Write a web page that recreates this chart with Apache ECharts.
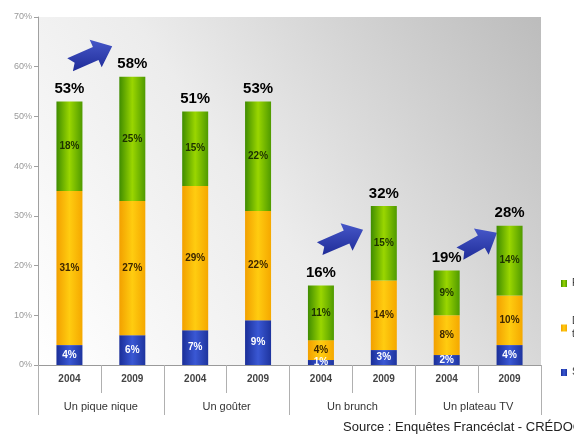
<!DOCTYPE html>
<html>
<head>
<meta charset="utf-8">
<script src="https://cdn.jsdelivr.net/npm/echarts@6/dist/echarts.min.js"></script>
<style>html,body{margin:0;padding:0;background:#fff;}#c{width:574px;height:434px;}</style>
</head>
<body>
<div id="c"></div>
<script>
var years = ['2004','2009','2004','2009','2004','2009','2004','2009'];
var groups = ['Un pique nique','Un goûter','Un brunch','Un plateau TV'];
var blueVals = [4, 6, 7, 9, 1, 3, 2, 4];
var orangeVals = [31, 27, 29, 22, 4, 14, 8, 10];
var greenVals = [18, 25, 15, 22, 11, 15, 9, 14];
var totals = [53, 58, 51, 53, 16, 32, 19, 28];
var seriesNames = ['Rarement', 'De temps en\ntemps', 'Souvent'];
var yTicks = [0, 10, 20, 30, 40, 50, 60, 70];
// arrows: [xStart, yStart, xEnd, yEnd] in data units (category index, %)
var arrows = [
  [0.01, 60.4, 0.68, 64.1],
  [3.98, 23.4, 4.67, 27.2],
  [6.21, 22.4, 6.80, 26.6]
];

var FONT = '"Liberation Sans", Arial, sans-serif';
function hgrad(edge, mid, edge2) {
  return new echarts.graphic.LinearGradient(0, 0, 1, 0, [
    {offset: 0, color: edge}, {offset: 0.5, color: mid}, {offset: 1, color: edge2}
  ]);
}
var greenGrad = hgrad('#3f8c00', '#9ad600', '#4f9a00');
var orangeGrad = hgrad('#f2a000', '#ffcc10', '#f5a800');
var blueGrad = hgrad('#1a2e98', '#3a58d4', '#1e349e');

var chart = echarts.init(document.getElementById('c'), null, {renderer: 'canvas'});
var option = {
  animation: false,
  textStyle: {fontFamily: FONT},
  grid: {
    left: 38, right: 33, top: 17, bottom: 69, show: true, borderWidth: 0,
    backgroundColor: new echarts.graphic.LinearGradient(0, 1, 1, 0, [
      {offset: 0, color: '#ffffff'}, {offset: 0.45, color: '#ececec'}, {offset: 1, color: '#bcbcbc'}
    ])
  },
  legend: {
    orient: 'vertical', left: 561, top: 277, itemGap: 25, padding: 0,
    itemWidth: 6, itemHeight: 7, icon: 'rect',
    data: [seriesNames[0], seriesNames[1], seriesNames[2]],
    textStyle: {fontSize: 10, color: '#333', fontFamily: FONT, lineHeight: 13}
  },
  xAxis: [
    {
      type: 'category', data: years, position: 'bottom',
      axisLine: {lineStyle: {color: '#9a9a9a'}},
      axisTick: {show: true, interval: 0, length: 28, lineStyle: {color: '#b0b0b0'}},
      axisLabel: {interval: 0, margin: 9, fontSize: 10, fontWeight: 'bold', color: '#444', fontFamily: FONT}
    },
    {
      type: 'category', data: groups, position: 'bottom',
      axisLine: {show: false},
      axisTick: {show: true, interval: 0, length: 50, lineStyle: {color: '#b0b0b0'}},
      axisLabel: {interval: 0, margin: 36, fontSize: 11, color: '#333', fontFamily: FONT}
    },
    {type: 'value', min: -0.5, max: 7.5, show: false}
  ],
  yAxis: {
    type: 'value', min: yTicks[0], max: yTicks[yTicks.length - 1], interval: 10,
    axisLine: {show: true, onZero: false, lineStyle: {color: '#a0a0a0'}},
    axisTick: {show: true, length: 4, lineStyle: {color: '#a0a0a0'}},
    splitLine: {show: false},
    axisLabel: {formatter: '{value}%', fontSize: 9, color: '#999', margin: 6, fontFamily: FONT}
  },
  series: [
    {
      name: seriesNames[2], type: 'bar', stack: 's', data: blueVals, barWidth: 26,
      itemStyle: {color: blueGrad},
      label: {show: true, position: 'inside', formatter: function (p) { return p.value + '%'; },
        color: '#fff', fontSize: 10, fontWeight: 'bold', fontFamily: FONT}
    },
    {
      name: seriesNames[1], type: 'bar', stack: 's', data: orangeVals, barWidth: 26,
      itemStyle: {color: orangeGrad},
      label: {show: true, position: 'inside', formatter: function (p) { return p.value + '%'; },
        color: '#3d2600', fontSize: 10, fontWeight: 'bold', fontFamily: FONT}
    },
    {
      name: seriesNames[0], type: 'bar', stack: 's', data: greenVals, barWidth: 26,
      itemStyle: {color: greenGrad},
      label: {show: true, position: 'inside', formatter: function (p) { return p.value + '%'; },
        color: '#1c3000', fontSize: 10, fontWeight: 'bold', fontFamily: FONT}
    },
    {
      type: 'scatter', data: totals.map(function (t, i) { return [i, blueVals[i] + orangeVals[i] + greenVals[i]]; }),
      symbolSize: 0, silent: true, itemStyle: {opacity: 1},
      label: {show: true, position: 'top', distance: 5,
        formatter: function (p) { return totals[p.dataIndex] + '%'; },
        fontSize: 15, fontWeight: 'bold', color: '#000', fontFamily: FONT}
    },
    {
      type: 'custom', xAxisIndex: 2, silent: true, data: arrows,
      renderItem: function (params, api) {
        var p0 = api.coord([api.value(0), api.value(1)]);
        var p1 = api.coord([api.value(2), api.value(3)]);
        var dx = p1[0] - p0[0], dy = p1[1] - p0[1];
        var L = Math.sqrt(dx * dx + dy * dy);
        var ux = dx / L, uy = dy / L, nx = -uy, ny = ux;
        var w = 7, h = 15, hl = 18;
        var local = [[0, -w], [L - hl, -w], [L - hl, -h], [L, 0], [L - hl, h], [L - hl, w], [0, w], [5, 0]];
        var pts = local.map(function (q) {
          return [p0[0] + ux * q[0] + nx * q[1], p0[1] + uy * q[0] + ny * q[1]];
        });
        return {
          type: 'polygon', shape: {points: pts},
          style: {fill: new echarts.graphic.LinearGradient(0, 0, 0, 1, [
            {offset: 0, color: '#4657c8'}, {offset: 1, color: '#1f2c98'}
          ])}
        };
      }
    }
  ],
  graphic: [
    {type: 'text', left: 343, top: 421,
      style: {text: 'Source : Enquêtes Francéclat - CRÉDOC', fontSize: 13, fill: '#222', fontFamily: FONT}}
  ]
};
chart.setOption(option);
</script>
</body>
</html>
